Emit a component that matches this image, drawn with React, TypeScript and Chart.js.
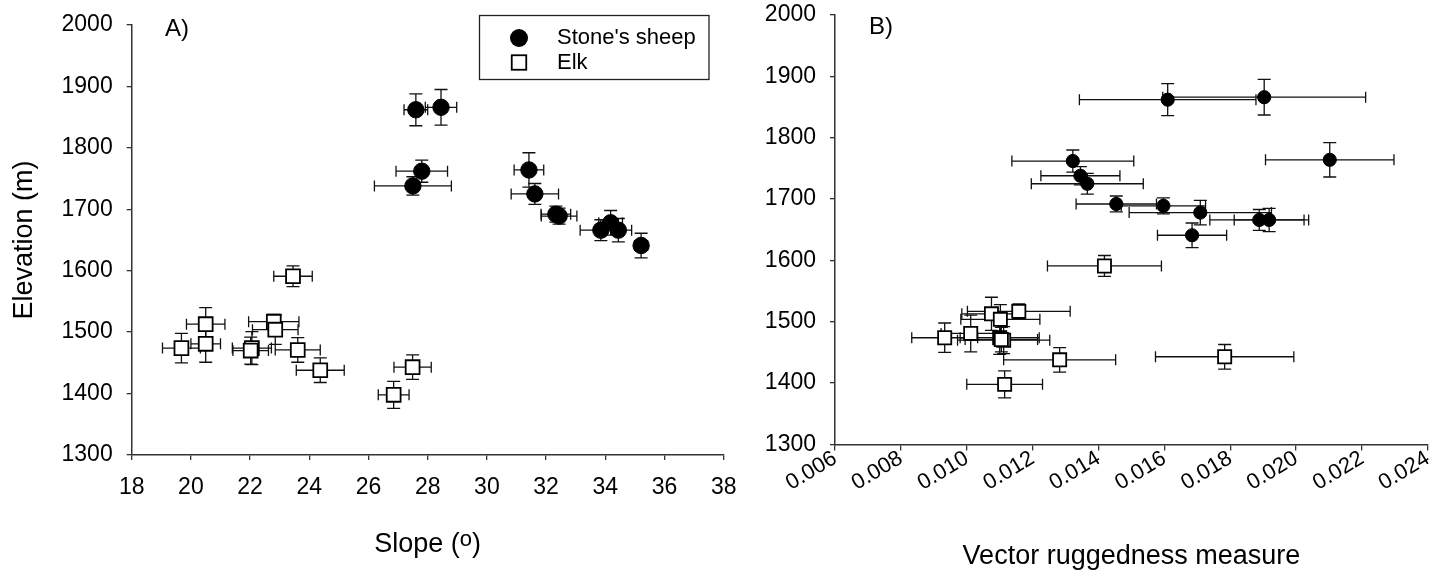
import React, { useEffect, useRef } from "react";
import { Chart, registerables } from "chart.js";

Chart.register(...registerables);

const FONT_FAMILY = "'Liberation Sans', Arial, Helvetica, sans-serif";

// ---- Stone's sheep (12 groups) ----
const sheepElevation = [1862, 1866, 1762, 1764, 1738, 1725, 1692, 1689, 1666, 1678, 1666, 1641];
const sheepElevationErr = [26, 29, 18, 28, 15, 17, 13, 13, 17, 20, 19, 20];
const sheepSlope = [27.6, 28.45, 27.8, 31.42, 27.5, 31.62, 32.33, 32.44, 33.85, 34.18, 34.44, 35.21];
const sheepSlopeErr = [0.4, 0.53, 0.87, 0.5, 1.3, 0.8, 0.5, 0.6, 0.7, 0.4, 0.45, 0.22];
const sheepVrm = [0.0161, 0.01903, 0.01322, 0.02102, 0.01345, 0.01366, 0.01454, 0.01597, 0.01888, 0.01709, 0.01918, 0.01684];
const sheepVrmErr = [0.00268, 0.00308, 0.00185, 0.00195, 0.0012, 0.0017, 0.00122, 0.00128, 0.0015, 0.00216, 0.00106, 0.00105];

// ---- Elk (12 groups) ----
const elkElevation = [1591, 1513, 1474, 1481, 1517, 1504, 1474, 1470, 1471, 1438, 1443, 1398];
const elkElevationErr = [17, 27, 24, 30, 12, 24, 27, 22, 20, 20, 20, 22];
const elkSlope = [23.45, 20.5, 19.68, 20.5, 22.8, 22.85, 22.06, 22.02, 23.61, 24.37, 27.49, 26.85];
const elkSlopeErr = [0.65, 0.65, 0.64, 0.5, 0.85, 0.77, 0.66, 0.6, 0.76, 0.81, 0.63, 0.52];
const elkVrm = [0.01418, 0.01075, 0.00933, 0.01012, 0.01158, 0.01102, 0.011, 0.01112, 0.01105, 0.01282, 0.01783, 0.01115];
const elkVrmErr = [0.00173, 0.0009, 0.001, 0.0009, 0.00156, 0.0012, 0.0012, 0.0014, 0.0011, 0.0017, 0.0021, 0.00115];

// ---- Axis ticks ----
const elevationTicks = [1300, 1400, 1500, 1600, 1700, 1800, 1900, 2000];
const slopeTicks = [18, 20, 22, 24, 26, 28, 30, 32, 34, 36, 38];
const vrmTicks = [0.006, 0.008, 0.01, 0.012, 0.014, 0.016, 0.018, 0.02, 0.022, 0.024];
const vrmTickLabels = ["0.006", "0.008", "0.010", "0.012", "0.014", "0.016", "0.018", "0.020", "0.022", "0.024"];

const errorBars = {
  id: "errorBars",
  beforeDatasetsDraw(chart: any) {
    const { ctx, scales } = chart;
    const xs = scales.x;
    const ys = scales.y;
    ctx.save();
    ctx.strokeStyle = "#111";
    ctx.lineWidth = 1.3;
    chart.data.datasets.forEach((ds: any) => {
      const capH = ds.capHalfH;
      const capV = ds.capHalfV;
      ds.data.forEach((pt: any, i: number) => {
        const cx = xs.getPixelForValue(pt.x);
        const cy = ys.getPixelForValue(pt.y);
        const xl = xs.getPixelForValue(pt.x - ds.xErr[i]);
        const xr = xs.getPixelForValue(pt.x + ds.xErr[i]);
        const yt = ys.getPixelForValue(pt.y + ds.yErr[i]);
        const yb = ys.getPixelForValue(pt.y - ds.yErr[i]);
        ctx.beginPath();
        ctx.moveTo(xl, cy);
        ctx.lineTo(xr, cy);
        ctx.moveTo(xl, cy - capH);
        ctx.lineTo(xl, cy + capH);
        ctx.moveTo(xr, cy - capH);
        ctx.lineTo(xr, cy + capH);
        ctx.moveTo(cx, yt);
        ctx.lineTo(cx, yb);
        ctx.moveTo(cx - capV, yt);
        ctx.lineTo(cx + capV, yt);
        ctx.moveTo(cx - capV, yb);
        ctx.lineTo(cx + capV, yb);
        ctx.stroke();
      });
    });
    ctx.restore();
  },
};

const decor = {
  id: "decor",
  afterDraw(chart: any, _args: any, opts: any) {
    const ctx = chart.ctx;
    ctx.save();
    ctx.fillStyle = "#000";
    ctx.font = `24px ${FONT_FAMILY}`;
    ctx.textAlign = "left";
    ctx.textBaseline = "alphabetic";
    ctx.fillText(opts.label, opts.labelX, opts.labelY);

    // x-axis title with a superscript part
    const T = opts.xTitle;
    if (T) {
      const area = chart.chartArea;
      const mainFont = `${T.size}px ${FONT_FAMILY}`;
      const supFont = `${T.supSize}px ${FONT_FAMILY}`;
      ctx.font = mainFont;
      const w1 = ctx.measureText(T.before).width;
      const w3 = ctx.measureText(T.after).width;
      ctx.font = supFont;
      const w2 = ctx.measureText(T.sup).width;
      const total = w1 + w2 + w3;
      let x = (area.left + area.right) / 2 - total / 2;
      ctx.textBaseline = "alphabetic";
      ctx.font = mainFont;
      ctx.fillText(T.before, x, T.baseline);
      x += w1;
      ctx.font = supFont;
      ctx.fillText(T.sup, x, T.baseline - T.supRaise);
      x += w2;
      ctx.font = mainFont;
      ctx.fillText(T.after, x, T.baseline);
    }

    const L = opts.legend;
    if (L) {
      ctx.strokeStyle = "#222";
      ctx.lineWidth = 1.3;
      ctx.strokeRect(L.x, L.y, L.w, L.h);
      chart.data.datasets.forEach((ds: any, i: number) => {
        const cy = L.y + L.firstRow + i * L.rowGap;
        const mx = L.x + L.markerX;
        if (ds.pointStyle === "circle") {
          ctx.beginPath();
          ctx.arc(mx, cy, L.circleR, 0, Math.PI * 2);
          ctx.fillStyle = "#000";
          ctx.fill();
        } else {
          const s = L.squareSide;
          ctx.fillStyle = "#fff";
          ctx.fillRect(mx - s / 2, cy - s / 2, s, s);
          ctx.strokeStyle = "#000";
          ctx.lineWidth = 1.8;
          ctx.strokeRect(mx - s / 2, cy - s / 2, s, s);
        }
        ctx.fillStyle = "#000";
        ctx.font = `22px ${FONT_FAMILY}`;
        ctx.textBaseline = "middle";
        ctx.fillText(ds.label, L.x + L.textX, cy);
      });
    }
    ctx.restore();
  },
};

function panelConfig(spec: any) {
  const axisColor = "#333";
  return {
    type: "scatter",
    data: {
      datasets: [
        {
          label: "Stone's sheep",
          data: spec.sheepX.map((x: number, i: number) => ({ x, y: sheepElevation[i] })),
          xErr: spec.sheepXErr,
          yErr: sheepElevationErr,
          capHalfH: 5.5,
          capHalfV: 6.5,
          pointStyle: "circle",
          pointRadius: spec.circleR,
          pointHoverRadius: spec.circleR,
          backgroundColor: "#000",
          borderColor: "#000",
          borderWidth: 1,
        },
        {
          label: "Elk",
          data: spec.elkX.map((x: number, i: number) => ({ x, y: elkElevation[i] })),
          xErr: spec.elkXErr,
          yErr: elkElevationErr,
          capHalfH: 5.5,
          capHalfV: 6.5,
          pointStyle: "rect",
          pointRadius: spec.squareR,
          pointHoverRadius: spec.squareR,
          backgroundColor: "#fff",
          borderColor: "#000",
          borderWidth: 1.8,
        },
      ],
    },
    options: {
      animation: false,
      responsive: false,
      devicePixelRatio: 1,
      layout: { padding: spec.padding },
      plugins: {
        legend: { display: false },
        tooltip: { enabled: false },
        decor: spec.decor,
      },
      scales: {
        x: {
          type: "linear",
          min: spec.xTicks[0],
          max: spec.xTicks[spec.xTicks.length - 1],
          afterBuildTicks: (scale: any) => {
            scale.ticks = spec.xTicks.map((v: number) => ({ value: v }));
          },
          afterFit: (scale: any) => {
            scale.height = spec.xAxisHeight;
            scale.paddingLeft = 0;
            scale.paddingRight = 0;
          },
          ticks: {
            autoSkip: false,
            color: "#000",
            font: { family: FONT_FAMILY, size: spec.xTickFont },
            padding: spec.xTickPadding,
            minRotation: spec.xRotation,
            maxRotation: spec.xRotation,
            callback: (_v: any, i: number) => spec.xTickLabels[i],
          },
          grid: {
            display: true,
            drawOnChartArea: false,
            drawTicks: true,
            tickLength: spec.xTickLength,
            color: axisColor,
            lineWidth: 1.3,
          },
          border: { display: true, color: axisColor, width: 1.5 },
          title: {
            display: !!spec.xTitle,
            text: spec.xTitle || "",
            color: "#000",
            font: { family: FONT_FAMILY, size: 27 },
            padding: { top: 0, bottom: spec.xTitlePad },
          },
        },
        y: {
          type: "linear",
          min: 1300,
          max: 2000,
          afterBuildTicks: (scale: any) => {
            scale.ticks = elevationTicks.map((v) => ({ value: v }));
          },
          afterFit: (scale: any) => {
            scale.width = spec.yAxisWidth;
            scale.paddingTop = 0;
            scale.paddingBottom = 0;
          },
          ticks: {
            autoSkip: false,
            color: "#000",
            font: { family: FONT_FAMILY, size: 23 },
            padding: 14,
            callback: (v: any) => String(v),
          },
          grid: {
            display: true,
            drawOnChartArea: false,
            drawTicks: true,
            tickLength: 5,
            color: axisColor,
            lineWidth: 1.3,
          },
          border: { display: true, color: axisColor, width: 1.5 },
          title: {
            display: !!spec.yTitle,
            text: spec.yTitle || "",
            color: "#000",
            font: { family: FONT_FAMILY, size: 27 },
            padding: { top: 8.3, bottom: 0 },
          },
        },
      },
    },
    plugins: [errorBars, decor],
  };
}

const configA = () =>
  panelConfig({
    sheepX: sheepSlope,
    sheepXErr: sheepSlopeErr,
    elkX: elkSlope,
    elkXErr: elkSlopeErr,
    circleR: 8.2,
    squareR: 9.8,
    padding: { left: 0, top: 25, right: 36.3, bottom: 0 },
    xTicks: slopeTicks,
    xTickLabels: slopeTicks.map(String),
    xAxisHeight: 119,
    xTickFont: 23,
    xTickPadding: 14,
    xTickLength: 5,
    xRotation: 0,
    xTitle: "",
    xTitlePad: 14.8,
    yAxisWidth: 131.7,
    yTitle: "Elevation (m)",
    decor: {
      label: "A)",
      labelX: 165,
      labelY: 36,
      xTitle: { before: "Slope (", sup: "o", after: ")", size: 27, supSize: 22, supRaise: 6, baseline: 552 },
      legend: {
        x: 479.5,
        y: 15.5,
        w: 229.5,
        h: 64,
        firstRow: 22.5,
        rowGap: 24.5,
        markerX: 39.5,
        textX: 77.5,
        circleR: 9,
        squareSide: 14.5,
      },
    },
  });

const configB = () =>
  panelConfig({
    sheepX: sheepVrm,
    sheepXErr: sheepVrmErr,
    elkX: elkVrm,
    elkXErr: elkVrmErr,
    circleR: 6.6,
    squareR: 9.3,
    padding: { left: 0, top: 15, right: 11, bottom: 0 },
    xTicks: vrmTicks,
    xTickLabels: vrmTickLabels,
    xAxisHeight: 129.5,
    xTickFont: 22,
    xTickPadding: -5,
    xTickLength: 6,
    xRotation: 31,
    xTitle: "Vector ruggedness measure",
    xTitlePad: 1,
    yAxisWidth: 115,
    yTitle: "",
    decor: {
      label: "B)",
      labelX: 149,
      labelY: 34,
      xTitle: null,
      legend: null,
    },
  });

export default function App() {
  const refA = useRef<HTMLCanvasElement>(null);
  const refB = useRef<HTMLCanvasElement>(null);

  useEffect(() => {
    const a = new Chart(refA.current as HTMLCanvasElement, configA() as any);
    const b = new Chart(refB.current as HTMLCanvasElement, configB() as any);
    return () => {
      a.destroy();
      b.destroy();
    };
  }, []);

  return (
    <div style={{ position: "absolute", left: 0, top: 0, width: 1439, height: 574, background: "#fff" }}>
      <canvas
        ref={refA}
        width={760}
        height={574}
        style={{ position: "absolute", left: 0, top: 0, width: 760, height: 574 }}
      />
      <canvas
        ref={refB}
        width={719}
        height={574}
        style={{ position: "absolute", left: 720, top: 0, width: 719, height: 574 }}
      />
    </div>
  );
}
